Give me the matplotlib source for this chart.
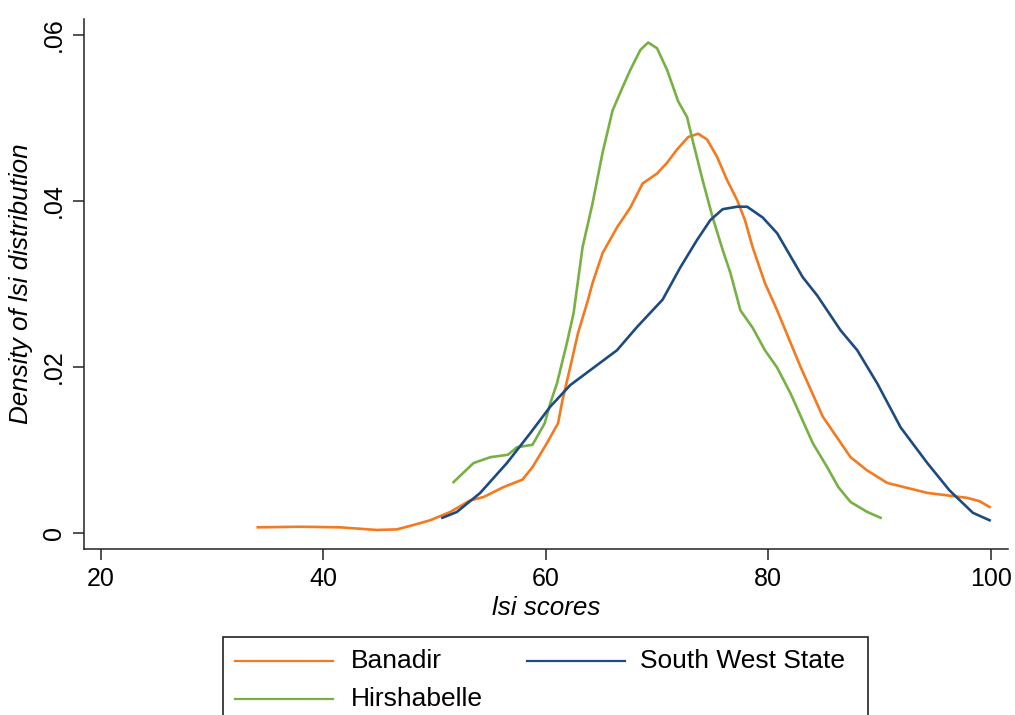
import matplotlib
matplotlib.use("Agg")
import matplotlib.pyplot as plt
from matplotlib.lines import Line2D
from matplotlib.patches import Rectangle

plt.rcParams["font.family"] = ["Liberation Sans", "DejaVu Sans"]

# Kernel density estimates of lsi scores by region
banadir_x = [34.1, 37.9, 41.5, 44.8, 46.6, 48.1, 49.6, 50.5, 51.4, 53.2, 54.4, 56.2,
             57.9, 58.8, 60.1, 61.1, 61.5, 62.2, 62.9, 63.8, 64.2, 65.1, 66.4, 67.6,
             68.7, 70.0, 70.9, 71.8, 72.8, 73.7, 74.5, 75.4, 76.3, 77.2, 77.9, 78.6,
             79.7, 80.8, 82.9, 84.9, 87.4, 88.9, 90.7, 94.3, 97.9, 99.0, 99.9]
banadir_y = [0.00065, 0.00072, 0.00065, 0.00033, 0.0004, 0.00093, 0.0015, 0.002, 0.0025,
             0.0039, 0.0043, 0.0055, 0.0064, 0.0079, 0.0108, 0.0132, 0.016, 0.020,
             0.0241, 0.0281, 0.0301, 0.0337, 0.0368, 0.0392, 0.0421, 0.0433, 0.0446,
             0.0462, 0.0477, 0.0481, 0.0474, 0.0453, 0.0425, 0.0401, 0.0377, 0.0344,
             0.0301, 0.0268, 0.020, 0.014, 0.0091, 0.0075, 0.006, 0.0048, 0.0042,
             0.0038, 0.0031]

hirshabelle_x = [51.7, 53.5, 55.0, 56.6, 57.4, 58.8, 59.9, 60.4, 61.0, 61.9, 62.5, 63.3,
                 64.2, 65.1, 66.0, 66.9, 67.6, 68.5, 69.2, 70.0, 70.9, 71.9, 72.7, 73.2,
                 74.1, 75.0, 75.9, 76.6, 77.5, 78.6, 79.7, 80.8, 82.0, 83.0, 84.0, 85.3,
                 86.3, 87.4, 88.9, 90.1]
hirshabelle_y = [0.0061, 0.0084, 0.0091, 0.0094, 0.0103, 0.0106, 0.0132, 0.0156, 0.018,
                 0.0229, 0.0265, 0.0344, 0.0397, 0.0458, 0.0509, 0.0537, 0.0558, 0.0582,
                 0.0591, 0.0584, 0.0558, 0.052, 0.0501, 0.0473, 0.0425, 0.038, 0.0341,
                 0.0313, 0.0268, 0.0247, 0.022, 0.0199, 0.0168, 0.0138, 0.0108, 0.0079,
                 0.0055, 0.0037, 0.0025, 0.0018]

sws_x = [50.7, 52.0, 54.1, 56.5, 58.6, 60.4, 62.2, 64.0, 66.4, 68.2, 70.5, 72.1, 73.6,
         74.8, 75.9, 77.2, 78.1, 79.5, 80.8, 83.1, 84.4, 86.5, 88.0, 89.8, 91.9, 94.3,
         96.3, 98.4, 99.9]
sws_y = [0.0018, 0.0025, 0.0048, 0.0084, 0.012, 0.0152, 0.0178, 0.0196, 0.022, 0.0248,
         0.0281, 0.032, 0.0353, 0.0377, 0.039, 0.0393, 0.0393, 0.038, 0.0361, 0.0308,
         0.0286, 0.0244, 0.022, 0.018, 0.0127, 0.0084, 0.0051, 0.0024, 0.0015]

series_names = ["Banadir", "Hirshabelle", "South West State"]
colors = ["#f47a1f", "#77b144", "#1d4a80"]

x_ticks = [20, 40, 60, 80, 100]
y_ticks = [0, 0.02, 0.04, 0.06]
y_tick_labels = ["0", ".02", ".04", ".06"]

W, H = 1015, 715
fig = plt.figure(figsize=(W / 100, H / 100), dpi=100)
ax = fig.add_axes([84.3 / W, 1 - 549.3 / H, (1007.7 - 84.3) / W, (549.3 - 19) / H])

lw = 1.9
ax.plot(banadir_x, banadir_y, color=colors[0], lw=lw, solid_joinstyle="round")
ax.plot(hirshabelle_x, hirshabelle_y, color=colors[1], lw=lw, solid_joinstyle="round")
ax.plot(sws_x, sws_y, color=colors[2], lw=lw, solid_joinstyle="round")

ax.set_xlim(18.5, 101.53)
ax.set_ylim(-0.002, 0.06193)
ax.set_xticks(x_ticks)
ax.set_yticks(y_ticks)
ax.set_yticklabels(y_tick_labels, rotation=90, va="center")
ax.tick_params(axis="both", direction="out", length=8, width=1.1, labelsize=18,
               color="#222222", pad=5)
for side in ["top", "right"]:
    ax.spines[side].set_visible(False)
for side in ["left", "bottom"]:
    ax.spines[side].set_linewidth(1.1)
    ax.spines[side].set_color("#222222")

ax.set_xlabel("lsi scores", fontsize=18.7, style="italic", labelpad=3)
ax.set_ylabel("Density of lsi distribution", fontsize=18.7, style="italic", labelpad=7)


def fx(px):
    return px / W


def fy(py):
    return 1 - py / H


# Legend panel below the plot
fig.add_artist(Rectangle((fx(223), fy(725)), fx(868) - fx(223), fy(637) - fy(725),
                         transform=fig.transFigure, fill=False, lw=1.2,
                         edgecolor="#222222", clip_on=False))
legend_items = [
    (series_names[0], colors[0], 235, 333, 351, 661),
    (series_names[2], colors[2], 527, 625, 640, 661),
    (series_names[1], colors[1], 235, 333, 351, 699),
]
for name, col, x0, x1, tx, ty in legend_items:
    fig.add_artist(Line2D([fx(x0), fx(x1)], [fy(ty), fy(ty)], color=col, lw=1.6,
                          transform=fig.transFigure))
    fig.text(fx(tx), fy(ty), name, fontsize=19, va="center", ha="left")

fig.savefig("out.png", dpi=100)
